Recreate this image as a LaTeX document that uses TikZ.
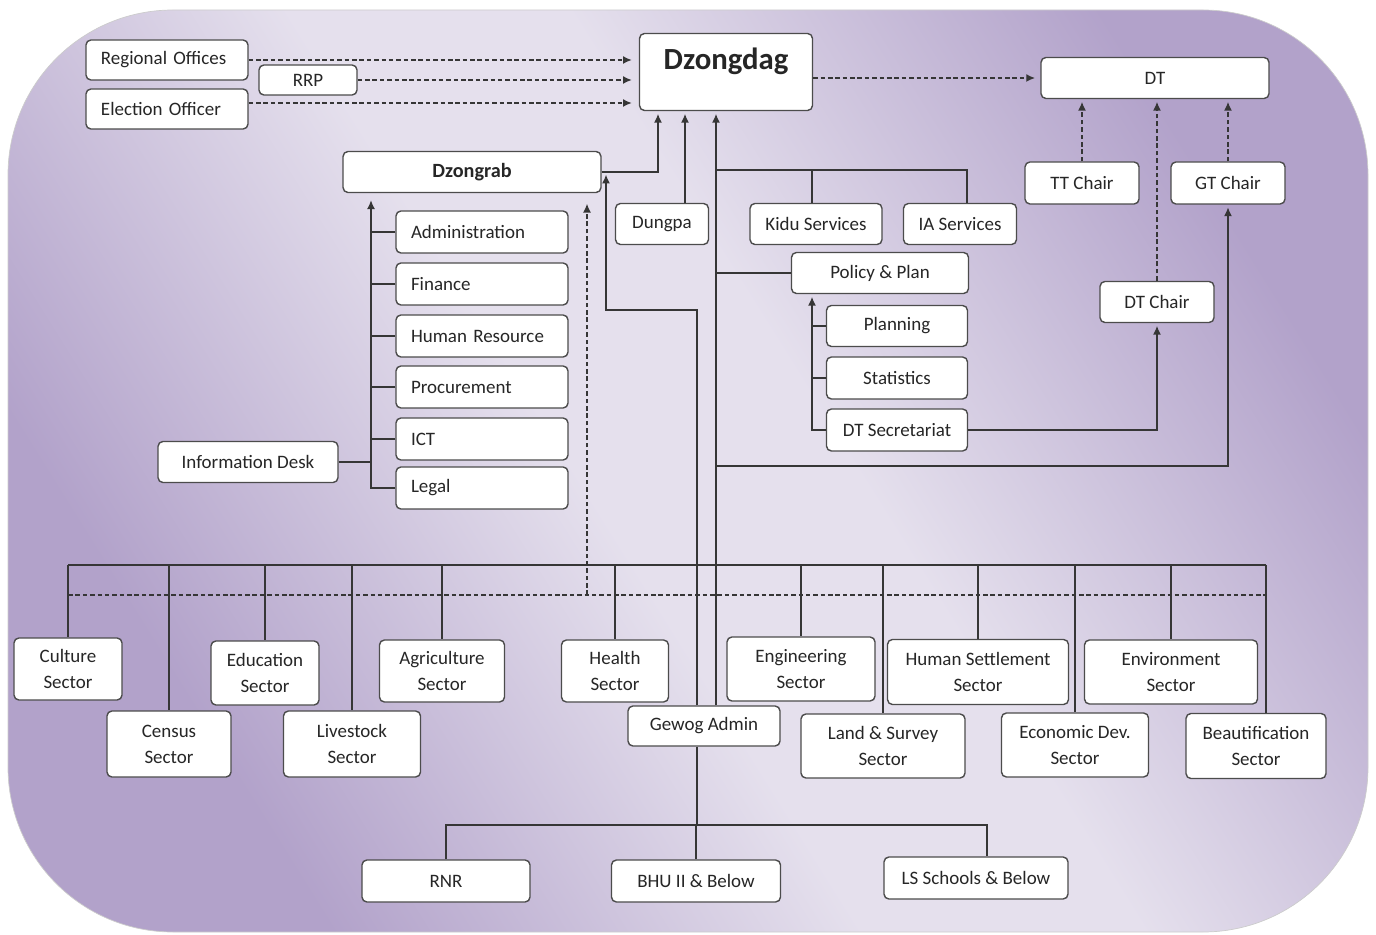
\documentclass[tikz,border=0pt]{standalone}
\usepackage{fontspec}
\setmainfont{Carlito}
\usetikzlibrary{arrows.meta}

\definecolor{bgdark}{HTML}{B2A2CA}
\definecolor{bglight}{HTML}{E5E0ED}
\definecolor{inkgray}{HTML}{363636}
\pgfdeclarehorizontalshading{bgshade}{100bp}{color(0bp)=(bgdark); color(27bp)=(bgdark); color(46bp)=(bglight); color(56bp)=(bglight); color(75bp)=(bgdark); color(100bp)=(bgdark)}

\tikzset{
	box/.style={draw=black!70, fill=white, rounded corners=2.8pt, line width=0.8pt, inner sep=0pt,
		font=\fontsize{10.8}{14.7}\selectfont, text=black!85},
	link/.style={draw=inkgray, line width=0.75pt},
	arr/.style={link, -{Latex[length=5pt,width=4.5pt]}, shorten >=1.5pt},
	dasharr/.style={arr, dash pattern=on 2.6pt off 1.6pt},
	dashlink/.style={link, dash pattern=on 2.6pt off 1.6pt}
}

\begin{document}
\begin{tikzpicture}[x=0.02cm,y=-0.02cm]
	
	% ---- Background panel ----
	\useasboundingbox (0,0) rectangle (1376,935);
	\shade[shading=bgshade, shading angle=32, rounded corners=3.3cm, draw=black!20] (8,10) rectangle (1368,932);
	
	% ---- Top boxes ----
	\node[box, minimum width=3.46cm, minimum height=1.54cm, font=\fontsize{17.5}{20}\selectfont\bfseries, text depth=15pt] (dzongdag) at (726,72) {Dzongdag};
	\node[box, minimum width=5.16cm, minimum height=0.82cm, font=\fontsize{11.5}{14}\selectfont\bfseries] (dzongrab) at (472,172) {Dzongrab};
	
	% ---- Centered boxes ----
	\foreach \name/\cx/\cy/\w/\h/\txt in {
		rrp/308/80/98/30/RRP,
		dt/1155/78/228/41/DT,
		ttchair/1082/183/114/42/TT Chair,
		gtchair/1228/183/114/42/GT Chair,
		dtchair/1157/302/114/41/DT Chair,
		dungpa/662/224/93/41/Dungpa,
		kidu/816/224/132/41/Kidu Services,
		ia/960/224/113/41/IA Services,
		policy/880/273/177/41/Policy \& Plan,
		planning/897/326/141/41/Planning,
		statistics/897/378/141/42/Statistics,
		dtsec/897/430/141/42/DT Secretariat,
		infodesk/248/462/180/41/Information Desk,
		gewog/704/726/152/40/Gewog Admin,
		rnr/446/881/168/42/RNR,
		bhu/696/881/169/42/BHU II \& Below,
		lsschool/976/878/184/42/LS Schools \& Below
	}
	{
		\pgfmathsetmacro\bw{\w*0.02}
		\pgfmathsetmacro\bh{\h*0.02}
		\node[box, minimum width=\bw cm, minimum height=\bh cm] (\name) at (\cx,\cy) {\txt};
	}
	
	% ---- Left aligned boxes ----
	\foreach \name/\cx/\cy/\w/\h/\txt in {
		regional/167/60/162/40/Regional Offices,
		election/167/109/162/40/Election Officer,
		admin/482/232/172/42/Administration,
		finance/482/284/172/42/Finance,
		hr/482/336/172/42/Human Resource,
		procure/482/387/172/42/Procurement,
		ict/482/439/172/42/ICT,
		legal/482/488/172/42/Legal
	}
	{
		\pgfmathsetmacro\bw{\w*0.02}
		\pgfmathsetmacro\bh{\h*0.02}
		\pgfmathsetmacro\tw{(\w-30)*0.02}
		\node[box, minimum width=\bw cm, minimum height=\bh cm, text width=\tw cm, align=left, inner xsep=0.3cm] (\name) at (\cx,\cy) {\txt};
	}
	
	% ---- Sector boxes ----
	\foreach \name/\cx/\cy/\w/\h/\txt in {
		culture/68/669/108/62/Culture,
		census/169/744/124/66/Census,
		education/265/673/108/64/Education,
		livestock/352/744/137/66/Livestock,
		agri/442/671/125/62/Agriculture,
		health/615/671/107/62/Health,
		engg/801/669/148/64/Engineering,
		land/883/746/164/64/Land \& Survey,
		hs/978/672/181/65/Human Settlement,
		econ/1075/745/147/64/Economic Dev.,
		env/1171/672/173/64/Environment,
		beaut/1256/746/140/65/Beautification
	}
	{
		\pgfmathsetmacro\bw{\w*0.02}
		\pgfmathsetmacro\bh{\h*0.02}
		\node[box, minimum width=\bw cm, minimum height=\bh cm, align=center] (\name) at (\cx,\cy) {\txt\\Sector};
	}
	
	% ---- Dashed links ----
	\draw[dasharr, shorten >=4pt] (regional.east) -- (regional.east -| dzongdag.west);
	\draw[dasharr, shorten >=4pt] (rrp.east) -- (rrp.east -| dzongdag.west);
	\draw[dasharr, shorten >=4pt] ([yshift=0.12cm]election.east) -- ([yshift=0.12cm]election.east -| dzongdag.west);
	\draw[dasharr, shorten >=3pt] (dzongdag.east |- dt.west) -- (dt.west);
	\foreach \name in {ttchair,gtchair,dtchair}
		\draw[dasharr] (\name.north) -- (\name.north |- dt.south);
	
	% ---- Into Dzongdag ----
	\coordinate (dgx) at (658,0);
	\coordinate (dpx) at (685,0);
	\coordinate (spine) at (716,466);
	\coordinate (svc) at (716,170);
	\draw[arr] (dzongrab.east) -| (dzongdag.south -| dgx);
	\draw[arr] (dungpa.north -| dpx) -- (dzongdag.south -| dpx);
	\draw[arr] (gewog.north -| spine) -- (dzongdag.south -| spine);
	\draw[link] (svc) -| ([xshift=0.14cm]ia.north);
	\draw[link] ([xshift=-0.08cm]kidu.north |- svc) -- ([xshift=-0.08cm]kidu.north);
	\draw[link] (policy.west -| spine) -- (policy.west);
	\draw[arr] (spine) -| (gtchair.south);
	
	% ---- Policy & Plan units ----
	\coordinate (ppx) at (812,296);
	\draw[arr] (dtsec.west) -| (policy.south -| ppx);
	\foreach \name in {planning,statistics}
		\draw[link] (\name.west) -- (\name.west -| ppx);
	\draw[arr] (dtsec.east) -| (dtchair.south);
	
	% ---- Dzongrab units ----
	\coordinate (dzx) at (371,0);
	\draw[arr, shorten >=4pt] (legal.west) -| (dzongrab.south -| dzx);
	\foreach \name in {admin,finance,hr,procure,ict}
		\draw[link] (\name.west) -- (\name.west -| dzx);
	\draw[link] (infodesk.east) -- (infodesk.east -| dzx);
	
	% ---- Gewog Admin ----
	\coordinate (gwc) at (606,310);
	\coordinate (gwx) at (697,825);
	\draw[arr] (gewog.north -| gwx) |- (gwc) -- (gwc |- dzongrab.east);
	\draw[link] (gewog.south -| gwx) -- (gwx);
	\draw[link] (rnr.north) |- (gwx) -| ([xshift=0.22cm]lsschool.north);
	\draw[link] (bhu.north) -- (bhu.north |- gwx);
	
	% ---- Sector bus ----
	\coordinate (busL) at (68,565);
	\coordinate (busR) at (1266,565);
	\coordinate (dashL) at (68,595);
	\coordinate (dashR) at (1266,595);
	\coordinate (dotx) at (587,595);
	\draw[link] (busL) -- (busR);
	\draw[dashlink] (dashL) -- (dashR);
	\foreach \name in {culture,census,education,livestock,agri,health,engg,land,hs,econ,env}
		\draw[link] (\name.north |- busL) -- (\name.north);
	\draw[link] (busR) -- (busR |- beaut.north);
	\draw[dasharr, shorten >=6pt] (dotx) -- (dotx |- dzongrab.south);
	
\end{tikzpicture}
\end{document}
